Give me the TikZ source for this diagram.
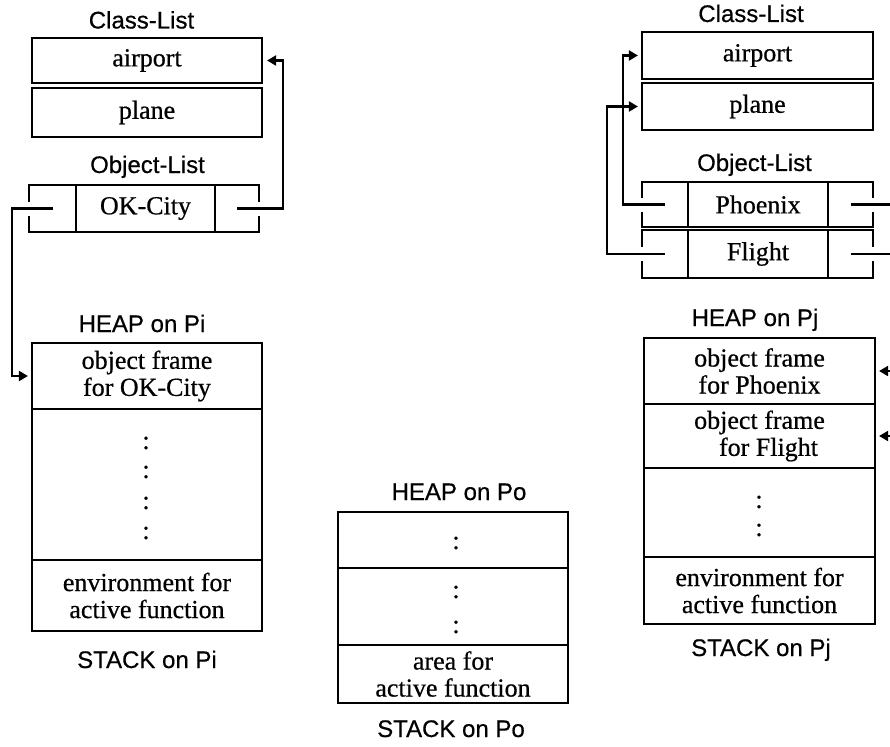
\documentclass[tikz,border=0pt]{standalone}
\usepackage{fontspec}
\setmainfont{Liberation Serif}[FakeBold=0.6]
\setsansfont{Liberation Sans}[FakeBold=0.5]
\usetikzlibrary{arrows.meta}

\newcommand\memcellfont{\fontsize{26}{27}\selectfont}
\newcommand\memlabfont{\sffamily\fontsize{24}{26}\selectfont}

\tikzset{
  cell/.style={draw, line width=2.2pt, inner sep=0pt, align=center, font=\memcellfont},
  lab/.style={anchor=base, inner sep=0pt, font=\memlabfont},
  dotmark/.style={inner sep=0pt, font=\memcellfont},
  ptr/.style={line width=2.1pt, -{Triangle[length=9pt,width=10pt]}, shorten >=3pt},
  gapw/.style={draw=white, line width=3.5pt}
}

\begin{document}
\begin{tikzpicture}[x=1pt,y=-1pt]
\useasboundingbox (0,0) rectangle (890,746);
\clip (0,0) rectangle (890,746);

% ---------- processor Pi ----------
\node[lab] (clsLt) at (141.5,28.5) {Class-List};
\node[cell, minimum width=230, minimum height=45] (airL) at (147,60.5) {airport};
\node[cell, minimum width=230, minimum height=49] (plaL) at (147,112.5) {plane};

\node[lab] (objLt) at (147.5,173) {Object-List};
\node[cell, minimum width=47,  minimum height=47] (okA) at (52.5,208.5) {};
\node[cell, minimum width=139, minimum height=47] (okB) at (145.5,208.5) {OK-City};
\node[cell, minimum width=44,  minimum height=47] (okC) at (237,208.5) {};

\node[lab] (heapPi) at (142,332) {HEAP on Pi};
\node[cell, minimum width=230, minimum height=66]  (frOK)  at (147,376)   {object frame\\for OK-City};
\node[cell, minimum width=230, minimum height=151] (midPi) at (147,484.5) {};
\node[cell, minimum width=230, minimum height=71]  (envPi) at (147,595.5) {environment for\\active function};
\node[lab] (stkPi) at (147,668) {STACK on Pi};
\node[dotmark] (dPiA) at (146,443) {:};
\node[dotmark] (dPiB) at (146,472) {:};
\node[dotmark] (dPiC) at (146,503) {:};
\node[dotmark] (dPiD) at (146,533) {:};

% ---------- processor Po ----------
\node[lab] (heapPo) at (459,500) {HEAP on Po};
\node[cell, minimum width=230, minimum height=56] (topPo)  at (453,540)   {};
\node[cell, minimum width=230, minimum height=77] (midPo)  at (453,606.5) {};
\node[cell, minimum width=230, minimum height=58] (areaPo) at (453,674)   {area for\\active function};
\node[lab] (stkPo) at (451,737) {STACK on Po};
\node[dotmark] (dPoA) at (456,543) {:};
\node[dotmark] (dPoB) at (456,592) {:};
\node[dotmark] (dPoC) at (456,627) {:};

% ---------- processor Pj ----------
\node[lab] (clsRt) at (751,22) {Class-List};
\node[cell, minimum width=231, minimum height=47] (airR) at (757.5,55.5)  {airport};
\node[cell, minimum width=231, minimum height=47] (plaR) at (757.5,106.5) {plane};

\node[lab] (objRt) at (754.5,171) {Object-List};
\node[cell, minimum width=46,  minimum height=45] (phA) at (665,204.5)   {};
\node[cell, minimum width=140, minimum height=45] (phB) at (758,204.5)   {Phoenix};
\node[cell, minimum width=45,  minimum height=45] (phC) at (850.5,204.5) {};
\node[cell, minimum width=46,  minimum height=48] (flA) at (665,254)     {};
\node[cell, minimum width=140, minimum height=48] (flB) at (758,254)     {Flight};
\node[cell, minimum width=45,  minimum height=48] (flC) at (850.5,254)   {};

\node[lab] (heapPj) at (755,326) {HEAP on Pj};
\node[cell, minimum width=231, minimum height=66] (frPh)  at (759.5,371)   {object frame\\for Phoenix};
\node[cell, minimum width=231, minimum height=64] (frFl)  at (759.5,436)   {object frame\\\hspace*{18pt}for Flight};
\node[cell, minimum width=231, minimum height=89] (midPj) at (759.5,512.5) {};
\node[cell, minimum width=231, minimum height=67] (envPj) at (759.5,590.5) {environment for\\active function};
\node[lab] (stkPj) at (761,656) {STACK on Pj};
\node[dotmark] (dPjA) at (759,502) {:};
\node[dotmark] (dPjB) at (759,530) {:};

% ---------- pointer routing points ----------
\coordinate (busL)  at (12,300);
\coordinate (busR)  at (283,150);
\coordinate (busP)  at (623,150);
\coordinate (busF)  at (607,200);
\coordinate (busPh) at (905,300);
\coordinate (busFl) at (897,350);

% breaks in the cell borders where pointers leave
\draw[gapw] ([yshift=7pt]okA.west) -- ([yshift=-7pt]okA.west);
\draw[gapw] ([yshift=7pt]okC.east) -- ([yshift=-7pt]okC.east);
\draw[gapw] ([yshift=7pt]phA.west) -- ([yshift=-7pt]phA.west);
\draw[gapw] ([yshift=7pt]phC.east) -- ([yshift=-7pt]phC.east);
\draw[gapw] ([yshift=7pt]flA.west) -- ([yshift=-7pt]flA.west);
\draw[gapw] ([yshift=7pt]flC.east) -- ([yshift=-7pt]flC.east);

% ---------- pointers ----------
\draw[ptr] (okA.center) -| (busL) |- (frOK.west);
\draw[ptr, shorten >=4pt] (okC.center) -| (busR) |- (airL.east);
\draw[ptr] (phA.center) -| (busP) |- (airR.west);
\draw[ptr] (flA.center) -| (busF) |- (plaR.west);
\draw[ptr] (phC.center) -| (busPh) |- (frPh.east);
\draw[ptr] (flC.center) -| (busFl) |- (frFl.east);
\end{tikzpicture}
\end{document}
